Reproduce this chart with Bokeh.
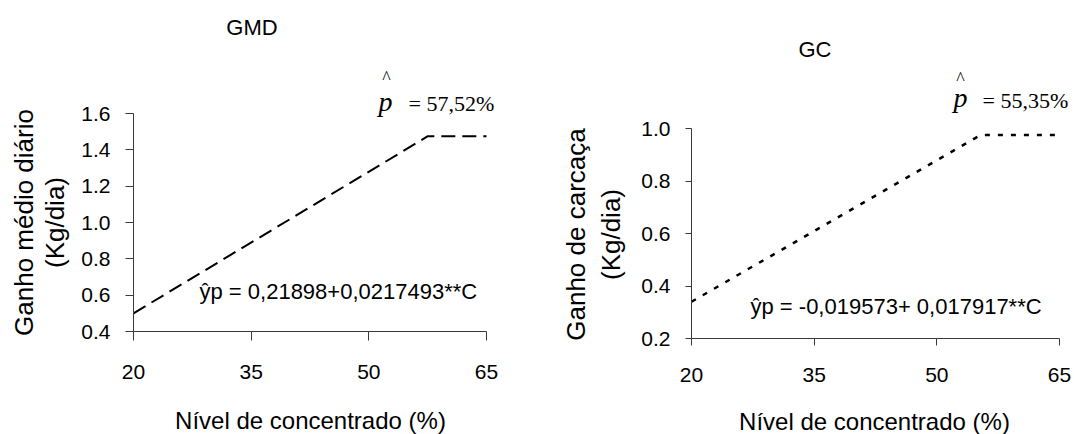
from bokeh.plotting import figure
from bokeh.models import Range1d, FixedTicker, PrintfTickFormatter, Label
from bokeh.layouts import row
from bokeh.embed import file_html
from bokeh.resources import INLINE
import math

# ---- data ----
x_ticks = [20, 35, 50, 65]
gmd_y_ticks = [0.4, 0.6, 0.8, 1.0, 1.2, 1.4, 1.6]
gc_y_ticks = [0.2, 0.4, 0.6, 0.8, 1.0]

gmd_x = [20, 57.52, 65]
gmd_y = [0.50, 1.475, 1.475]

gc_x = [20, 55.35, 65]
gc_y = [0.34, 0.975, 0.975]

gmd_title = "GMD"
gc_title = "GC"
gmd_ylabel = ["Ganho médio diário", "(Kg/dia)"]
gc_ylabel = ["Ganho de carcaça", "(Kg/dia)"]
xlabel = "Nível de concentrado (%)"
gmd_eq = "ŷp = 0,21898+0,0217493**C"
gc_eq = "ŷp = -0,019573+ 0,017917**C"
gmd_p = "= 57,52%"
gc_p = "= 55,35%"

SANS = "Liberation Sans"
SERIF = "Liberation Serif"
AX = "#3a3a3a"
W, H = 537, 434


class Panel:
    """Figure whose frame fills the canvas; axes drawn at fixed data locations."""

    def __init__(self, px20, px65, ybot_val, ybot_px, ytop_val, ytop_px, yticks,
                 tick_y_out, tick_x_out, x_std, y_std):
        self.sx = (px65 - px20) / 45.0
        self.sy = (ybot_px - ytop_px) / (ytop_val - ybot_val)
        self.x0 = 20 - px20 / self.sx
        self.x1 = self.x0 + W / self.sx
        self.y1 = ytop_val + ytop_px / self.sy
        self.y0 = self.y1 - H / self.sy
        p = figure(width=W, height=H, output_backend="svg", toolbar_location=None,
                   x_range=Range1d(self.x0, self.x1), y_range=Range1d(self.y0, self.y1),
                   min_border=0)
        p.title.visible = False
        p.outline_line_color = None
        p.grid.visible = False
        p.background_fill_color = "white"
        p.border_fill_color = "white"
        xa, ya = p.xaxis[0], p.yaxis[0]
        xa.fixed_location = ybot_val
        ya.fixed_location = 20
        xa.bounds = (20, 65)
        ya.bounds = (ybot_val, ytop_val)
        xa.ticker = FixedTicker(ticks=x_ticks)
        ya.ticker = FixedTicker(ticks=yticks)
        ya.formatter = PrintfTickFormatter(format="%.1f")
        for a in (xa, ya):
            a.axis_line_color = AX
            a.major_tick_line_color = AX
            a.minor_tick_line_color = None
            a.major_tick_in = 0
            a.major_label_text_font = SANS
            a.major_label_text_font_size = "21px"
            a.major_label_text_color = "black"
        ya.major_tick_out = tick_y_out
        xa.major_tick_out = tick_x_out
        ya.major_label_standoff = y_std
        xa.major_label_standoff = x_std
        self.p = p

    def text(self, cx, cy, text, font=SANS, size="21px", style="normal",
             align="center", angle=0.0):
        # (cx, cy): canvas pixel of the text anchor (vertical middle)
        x = self.x0 + cx / self.sx
        y = self.y1 - cy / self.sy
        self.p.add_layout(Label(x=x, y=y, text=text, text_font=font,
                                text_font_size=size, text_font_style=style,
                                text_align=align, text_baseline="middle",
                                angle=angle, text_color="black"))


# ---- left panel (GMD) ----
P1 = Panel(133, 486, 0.4, 331, 1.6, 113, gmd_y_ticks, 8, 9, 24, 15)
P1.p.line(gmd_x, gmd_y, line_color="black", line_width=2, line_dash="14 7")
P1.text(251.5, 27, gmd_title, size="22px")
P1.text(23, 222, gmd_ylabel[0], size="26px", angle=math.pi / 2)
P1.text(54, 222, gmd_ylabel[1], size="26px", angle=math.pi / 2)
P1.text(310, 420, xlabel, size="24px")
P1.text(199, 291, gmd_eq, size="22px", align="left")
P1.text(386, 77.5, "^", font=SERIF, size="18px")
P1.text(385, 101, "p", font=SERIF, size="28px", style="italic")
P1.text(408, 103, gmd_p, font=SERIF, size="22px", align="left")

# ---- right panel (GC) ----
O = 537
P2 = Panel(691 - O, 1059 - O, 0.2, 338, 1.0, 128, gc_y_ticks, 6, 7, 22, 15)
P2.p.line(gc_x, gc_y, line_color="black", line_width=2.5, line_dash="5 8")
P2.text(814.5 - O, 48.5, gc_title, size="22px")
P2.text(575.5 - O, 234, gc_ylabel[0], size="26px", angle=math.pi / 2)
P2.text(610.5 - O, 234, gc_ylabel[1], size="26px", angle=math.pi / 2)
P2.text(874 - O, 420.5, xlabel, size="24px")
P2.text(750 - O, 306, gc_eq, size="22px", align="left")
P2.text(960 - O, 78, "^", font=SERIF, size="18px")
P2.text(960 - O, 97, "p", font=SERIF, size="28px", style="italic")
P2.text(982 - O, 99.5, gc_p, font=SERIF, size="22px", align="left")

layout = row(P1.p, P2.p)
open("out.html", "w").write(file_html(layout, INLINE))
